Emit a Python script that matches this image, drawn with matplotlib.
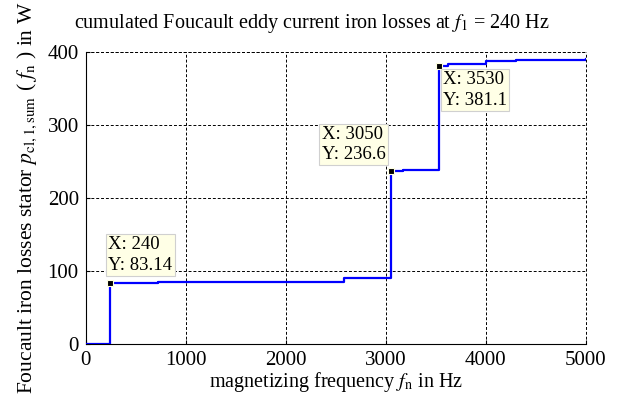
import matplotlib
matplotlib.use("Agg")
import matplotlib.pyplot as plt

plt.rcParams['font.family'] = ['Liberation Serif', 'DejaVu Serif']
plt.rcParams['mathtext.fontset'] = 'stix'

# cumulated losses (step curve)
freq = [0, 240, 720, 2580, 3050, 3170, 3530, 3620, 4000, 4300, 5000]
loss = [0, 83.14, 84.5, 91.0, 236.6, 238.5, 381.1, 383.0, 387.5, 389.0, 390.5]

# data tips
tip_x = [240, 3050, 3530]
tip_y = [83.14, 236.6, 381.1]
tip_txt = ["X: 240\nY: 83.14", "X: 3050\nY: 236.6", "X: 3530\nY: 381.1"]
tip_off = [(-1, 7), (-4, 6), (3, -4)]
tip_ha = ['left', 'right', 'left']
tip_va = ['bottom', 'bottom', 'top']

xticks = [0, 1000, 2000, 3000, 4000, 5000]
yticks = [0, 100, 200, 300, 400]

fig = plt.figure(figsize=(6.28, 4.03), dpi=100)
ax = fig.add_axes([0.1365, 0.146, 0.7965, 0.725])

ax.step(freq, loss, where='post', color='#0000ff', linewidth=1.6, zorder=3)
ax.plot(tip_x, tip_y, 's', color='black', markersize=4,
        markeredgecolor='#ffffe0', markeredgewidth=0.8, zorder=4)

for x, y, t, off, ha, va in zip(tip_x, tip_y, tip_txt, tip_off, tip_ha, tip_va):
    ax.annotate(t, (x, y), xytext=off, textcoords='offset points',
                ha=ha, va=va, multialignment='left', fontsize=13.5,
                linespacing=1.25, zorder=5,
                bbox=dict(boxstyle='square,pad=0.12', fc='#ffffe6',
                          ec='#d0d0d0', lw=0.8))

ax.set_xlim(0, 5000)
ax.set_ylim(0, 400)
ax.set_xticks(xticks)
ax.set_yticks(yticks)
ax.tick_params(direction='in', length=3, labelsize=15)
ax.tick_params(axis='x', pad=5)
ax.tick_params(axis='y', pad=5)
ax.grid(True, color='black', linestyle=(0, (3, 2)), linewidth=0.7)
ax.spines['top'].set_visible(False)
ax.spines['right'].set_visible(False)
ax.axhline(400, color='black', linestyle=(0, (3, 2)), linewidth=0.7, clip_on=False)
ax.axvline(5000, color='black', linestyle=(0, (3, 2)), linewidth=0.7, clip_on=False)

ax.set_title(r"cumulated Foucault eddy current iron losses at $f_1$ = 240 Hz",
             fontsize=14.5, pad=17, x=0.452)
ax.set_xlabel(r"magnetizing frequency $f_\mathrm{n}$ in Hz", fontsize=14.5, labelpad=0)
ax.set_ylabel(r"Foucault iron losses stator $p_{\mathrm{cl,1,sum}}$ ( $f_\mathrm{n}$ ) in W",
              fontsize=15.5, labelpad=6)

fig.savefig("out.png", dpi=100)
